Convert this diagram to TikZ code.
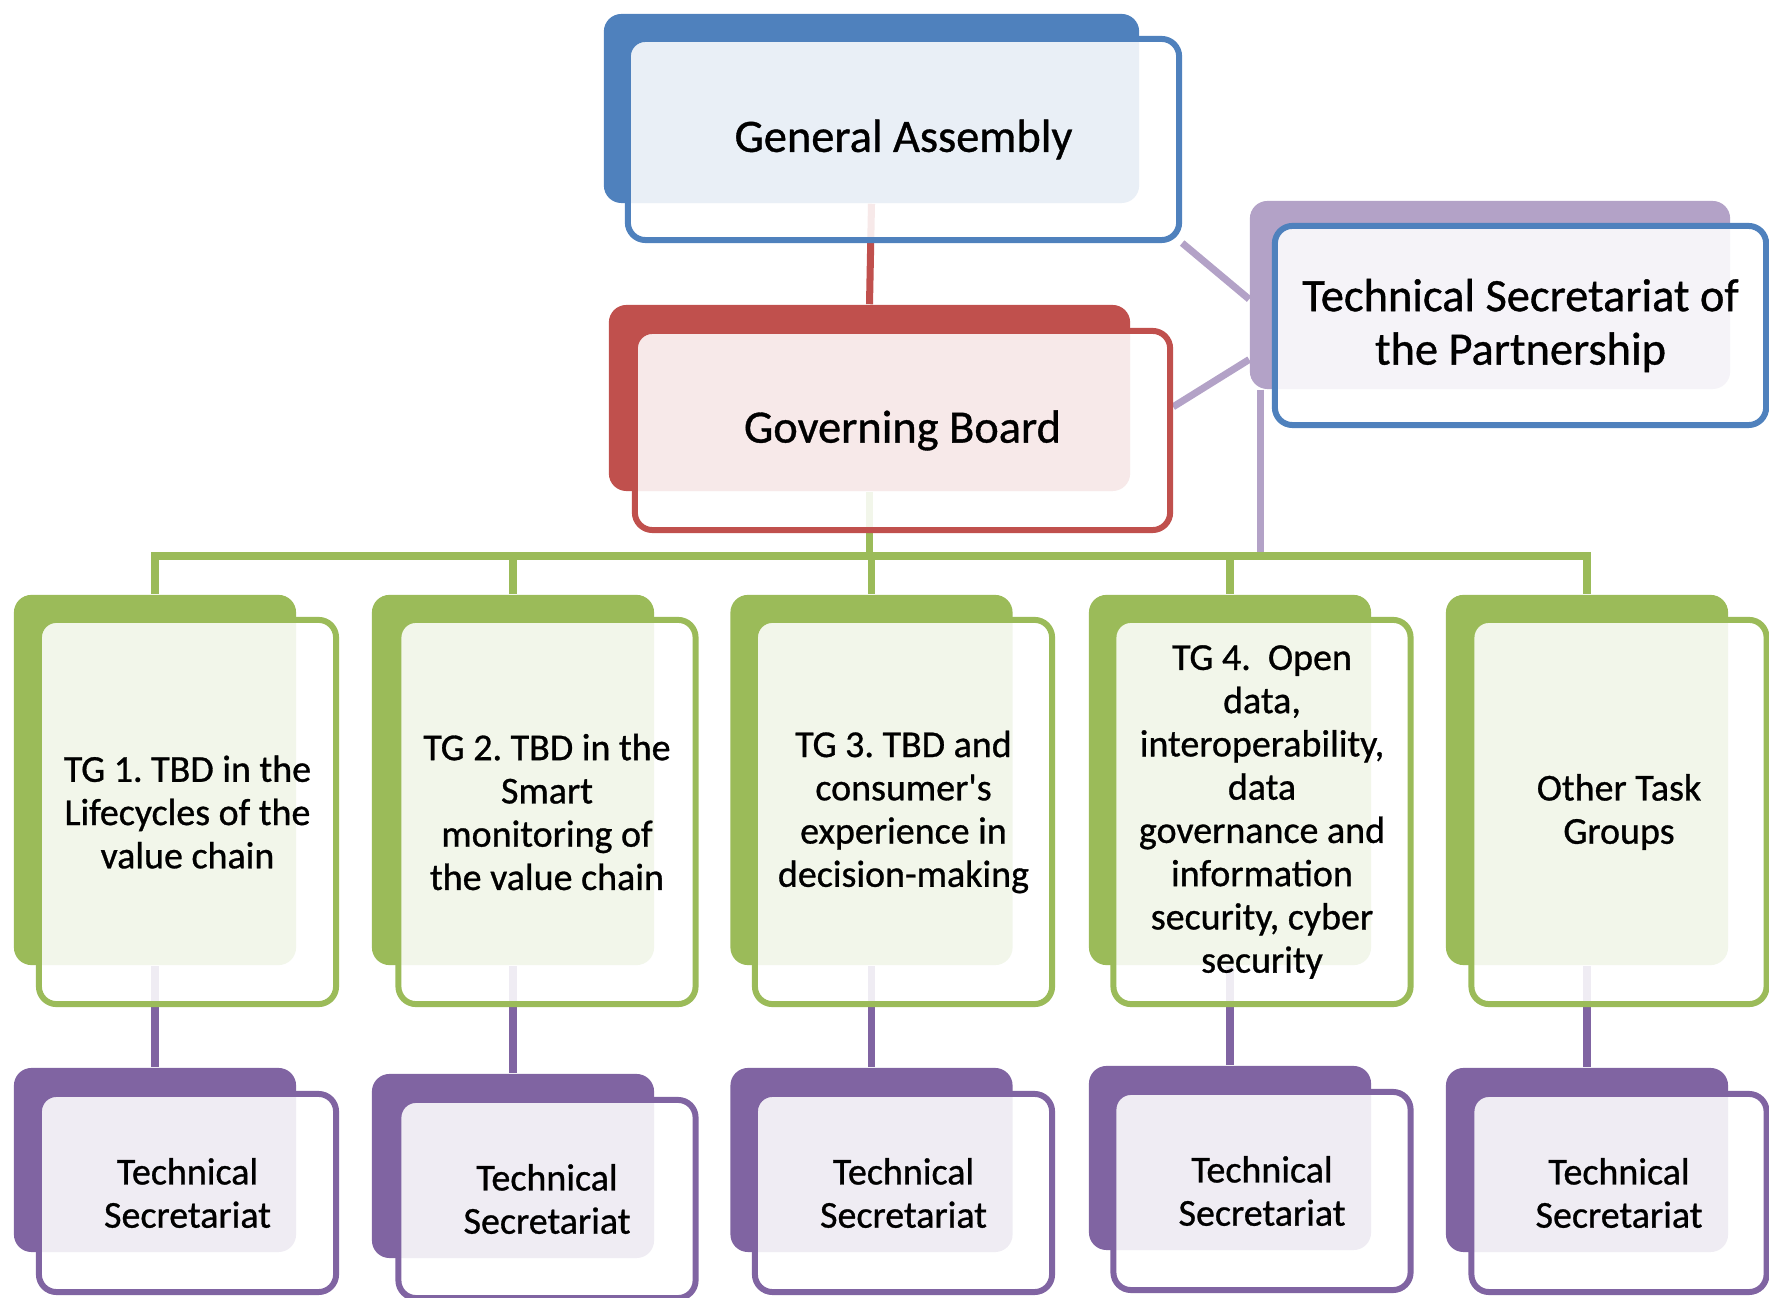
\documentclass[tikz,border=0pt]{standalone}
\usepackage{fontspec}
\setmainfont{Carlito}[FakeBold=0.8]
\frenchspacing
\usetikzlibrary{backgrounds}
\definecolor{gablue}{HTML}{4F81BD}
\definecolor{gbred}{HTML}{C0504D}
\definecolor{tggreen}{HTML}{9BBB59}
\definecolor{tspurple}{HTML}{8064A2}
\definecolor{lilac}{HTML}{B3A2C7}
\tikzset{backbox/.style = {rounded corners=5pt, inner sep=0pt},
         frontbox/.style = {draw, rounded corners=5pt, line width=1.7pt, fill=white,
                            fill opacity=0.88, text opacity=1, align=center, inner sep=2pt},
         bigtext/.style = {font=\fontsize{13.2}{15.2}\selectfont},
         smalltext/.style = {font=\fontsize{10.8}{12.3}\selectfont},
         tgback/.style = {backbox, fill=tggreen, minimum width=2.82cm, minimum height=3.70cm},
         tgfront/.style = {frontbox, smalltext, draw=tggreen, minimum width=2.97cm, minimum height=3.84cm},
         tsback/.style = {backbox, fill=tspurple, minimum width=2.82cm, minimum height=1.84cm},
         tsfront/.style = {frontbox, smalltext, draw=tspurple, minimum width=2.97cm, minimum height=1.98cm},
         link/.style = {line width=2pt}}

\begin{document}
\begin{tikzpicture}[x=0.01cm,y=-0.01cm]
                    \useasboundingbox (0,0) rectangle (1769,1298);

                    % top of the chart
                    \node[backbox, fill=gablue, minimum width=5.35cm, minimum height=1.89cm] (gab) at (871.5,108.5) {};
                    \node[frontbox, bigtext, draw=gablue, minimum width=5.51cm, minimum height=2.01cm] (ga) at (903.5,139.5) {General Assembly};

                    \node[backbox, fill=gbred, minimum width=5.21cm, minimum height=1.86cm] (gbb) at (869.5,398) {};
                    \node[frontbox, bigtext, draw=gbred, minimum width=5.35cm, minimum height=1.99cm] (gb) at (902.5,430.5) {Governing Board};

                    \node[backbox, fill=lilac, minimum width=4.80cm, minimum height=1.88cm] (tspb) at (1490,295) {};
                    \node[frontbox, bigtext, draw=gablue, minimum width=4.91cm, minimum height=1.99cm] (tsp) at (1520.5,325.5) {Technical Secretariat of\\the Partnership};

                    % task groups
                    \node[tgback] (tg1b) at (155,780) {};
                    \node[tgfront] (tg1) at (187.5,812) {TG 1. TBD in the\\Lifecycles of the\\value chain};
                    \node[tgback] (tg2b) at (513,780) {};
                    \node[tgfront] (tg2) at (547,812) {TG 2. TBD in the\\Smart\\monitoring of\\the value chain};
                    \node[tgback] (tg3b) at (871.5,780) {};
                    \node[tgfront] (tg3) at (903.5,812) {TG 3. TBD and\\consumer\textquotesingle s\\experience in\\decision-making};
                    \node[tgback] (tg4b) at (1230,780) {};
                    \node[tgfront] (tg4) at (1262,812) {TG 4.\ \ Open\\data,\\interoperability,\\data\\governance and\\information\\security, cyber\\security};
                    \node[tgback] (tg5b) at (1587,780) {};
                    \node[tgfront, minimum width=2.95cm] (tg5) at (1619,812) {Other Task\\Groups};

                    % secretariats
                    \node[tsback] (ts1b) at (155,1160) {};
                    \node[tsfront] (ts1) at (187.5,1193) {Technical\\Secretariat};
                    \node[tsback] (ts2b) at (513,1166) {};
                    \node[tsfront] (ts2) at (547,1199) {Technical\\Secretariat};
                    \node[tsback] (ts3b) at (871.5,1160) {};
                    \node[tsfront] (ts3) at (903.5,1193) {Technical\\Secretariat};
                    \node[tsback] (ts4b) at (1230,1158) {};
                    \node[tsfront] (ts4) at (1262,1191) {Technical\\Secretariat};
                    \node[tsback] (ts5b) at (1587,1160) {};
                    \node[tsfront, minimum width=2.95cm] (ts5) at (1619,1193) {Technical\\Secretariat};

                    \coordinate (bus) at (869.5,556);
                    \coordinate (tsfoot) at ([xshift=0.11cm]tspb.south west);

                    \begin{scope}[on background layer]
                    \draw[link, gbred] (gab.south) -- (gbb.north);

                    \draw[link, lilac] (ga.south east) -- (tspb.181);
                    \draw[link, lilac] (gb.5) -- (tspb.195);
                    \draw[link, lilac] (tsfoot) -- (tsfoot |- bus);

                    \draw[link, tggreen] (gbb.south) -- (bus);
                    \draw[link, tggreen] (tg1b.north) -- (tg1b.north |- bus) -- (tg5b.north |- bus) -- (tg5b.north);
                    \draw[link, tggreen] (tg2b.north) -- (tg2b.north |- bus);
                    \draw[link, tggreen] (tg3b.north) -- (tg3b.north |- bus);
                    \draw[link, tggreen] (tg4b.north) -- (tg4b.north |- bus);

                    \draw[link, tspurple] (tg1b.south) -- (ts1b.north);
                    \draw[link, tspurple] (tg2b.south) -- (ts2b.north);
                    \draw[link, tspurple] (tg3b.south) -- (ts3b.north);
                    \draw[link, tspurple] (tg4b.south) -- (ts4b.north);
                    \draw[link, tspurple] (tg5b.south) -- (ts5b.north);
                    \end{scope}
                \end{tikzpicture}
\end{document}
